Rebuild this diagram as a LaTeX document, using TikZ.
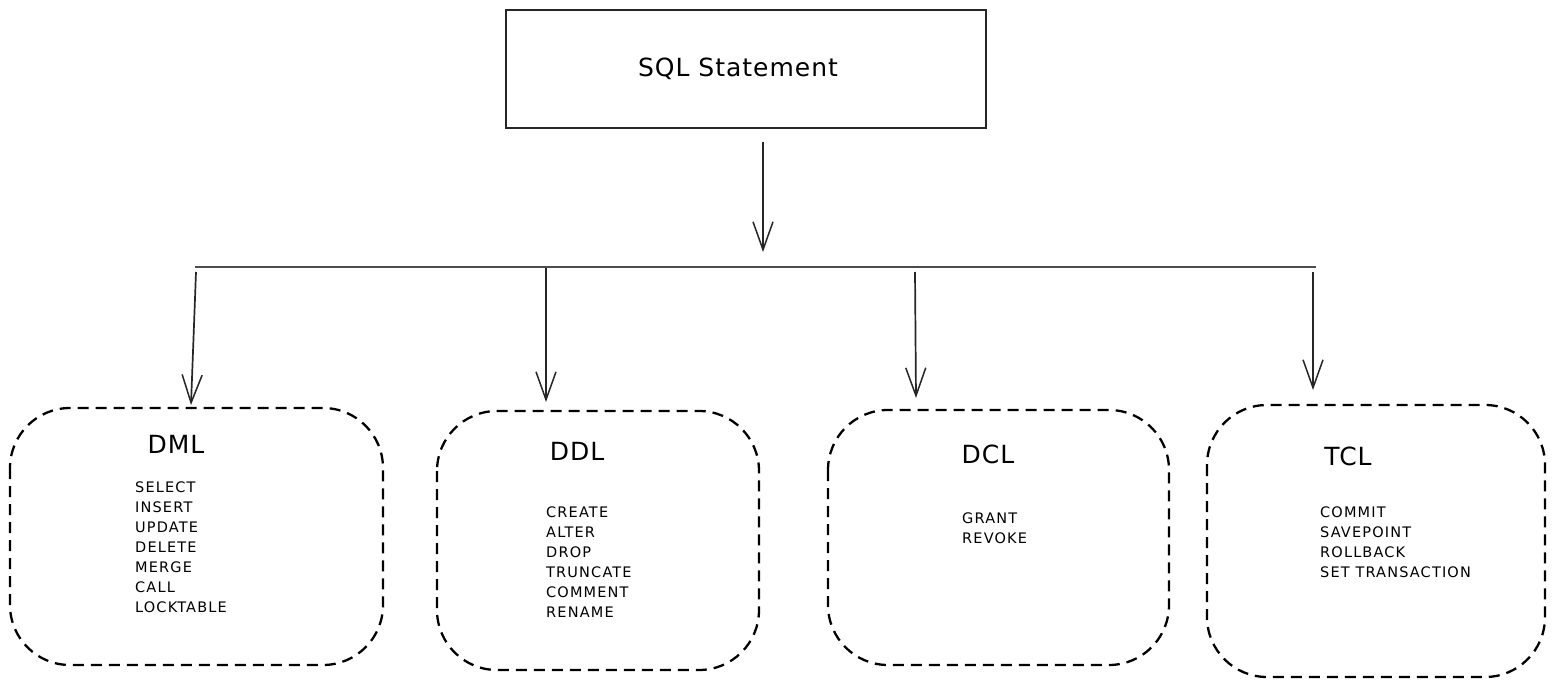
\documentclass[tikz,border=0pt]{standalone}
\usepackage{fontspec}
\setmainfont{DejaVu Sans}
\newfontfamily\titlefont[LetterSpace=4]{DejaVu Sans}
\newfontfamily\itemfont[LetterSpace=8]{DejaVu Sans}
\usetikzlibrary{arrows.meta}
\begin{document}
\begin{tikzpicture}[x=1pt,y=-1pt,
  topbox/.style={draw=black!85, line width=1.6pt, minimum width=480pt, minimum height=118pt, inner sep=0pt, font=\titlefont\fontsize{25}{28}\selectfont},
  groupbox/.style={draw=black, line width=2.3pt, dash pattern=on 11pt off 7pt, rounded corners=60pt},
  arr/.style={draw=black!85, line width=1.7pt, -{Straight Barb[length=28pt,width=20pt,line width=1.5pt]}},
  busline/.style={draw=black!70, line width=2.6pt},
  grouptitle/.style={font=\titlefont\fontsize{25}{28}\selectfont, inner sep=0pt},
  itemlist/.style={font=\itemfont\fontsize{14.5}{20}\selectfont, align=left, anchor=north west, inner sep=0pt}
]
\useasboundingbox (0,0) rectangle (1554,687);
\fill[white] (0,0) rectangle (1554,687);

% top box
\node[topbox] (sql) at (746,69) {SQL Statement\hspace*{16pt}};

% boxes
\draw[groupbox] (10,408) rectangle (383,665);
\draw[groupbox] (437,411) rectangle (759,670);
\draw[groupbox] (828,410) rectangle (1169,665);
\draw[groupbox] (1207,405) rectangle (1545,677);

% named anchors for the box tops
\coordinate (dmltop) at (191,405);
\coordinate (ddltop) at (546,402);
\coordinate (dcltop) at (916,398);
\coordinate (tcltop) at (1313,390);

% titles
\node[grouptitle] (dmlt) at (176,444) {DML};
\node[grouptitle] (ddlt) at (577,451) {DDL};
\node[grouptitle] (dclt) at (988,454) {DCL};
\node[grouptitle] (tclt) at (1348,456) {TCL};

% item lists
\node[itemlist] (dmli) at (135,482) {SELECT\\INSERT\\UPDATE\\DELETE\\MERGE\\CALL\\LOCKTABLE};
\node[itemlist] (ddli) at (546,507) {CREATE\\ALTER\\DROP\\TRUNCATE\\COMMENT\\RENAME};
\node[itemlist] (dcli) at (962,513) {GRANT\\REVOKE};
\node[itemlist] (tcli) at (1320,507) {COMMIT\\SAVEPOINT\\ROLLBACK\\SET TRANSACTION};

% main arrow
\coordinate (mainstart) at (763,142);
\coordinate (mainend) at (763,252);
\draw[arr] (mainstart) -- (mainend);

% bus line
\coordinate (busL) at (195,267);
\coordinate (busR) at (1316,267);
\draw[busline] (busL) -- (busR);

% branch arrows
\coordinate (b1) at (196,272);
\coordinate (b2) at (546,268);
\coordinate (b3) at (915,272);
\coordinate (b4) at (1313,272);
\draw[arr] (b1) -- (dmltop);
\draw[arr] (b2) -- (ddltop);
\draw[arr] (b3) -- (dcltop);
\draw[arr] (b4) -- (tcltop);
\end{tikzpicture}
\end{document}
